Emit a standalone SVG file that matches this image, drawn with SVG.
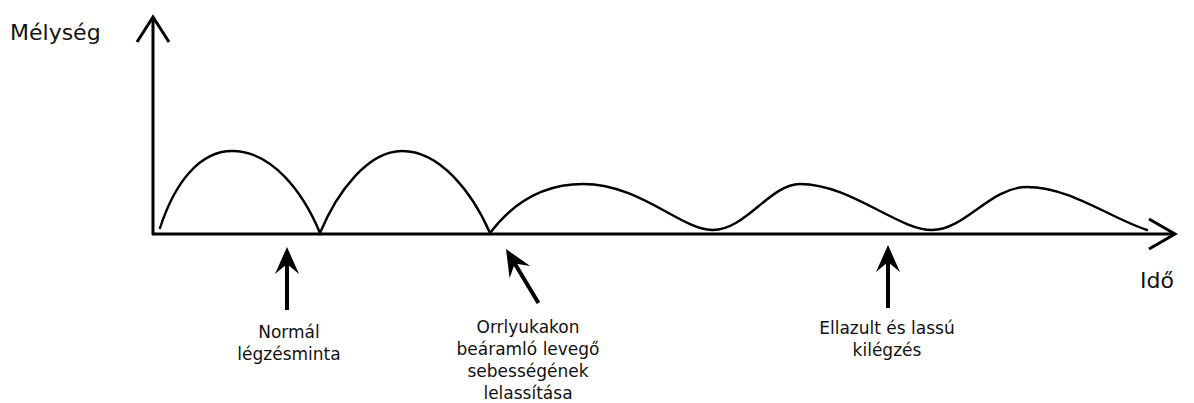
<svg xmlns="http://www.w3.org/2000/svg" xmlns:xlink="http://www.w3.org/1999/xlink" width="1194" height="403" viewBox="0 0 1194 403">
<style>
.axis{fill:none;stroke:#000;stroke-width:3;stroke-linecap:butt;stroke-linejoin:miter}
.curve{fill:none;stroke:#000;stroke-width:2.4;stroke-linecap:round}
.lbl{font-family:"DejaVu Sans",Verdana,sans-serif;font-size:17px;fill:#111;text-anchor:middle}
.ax{font-family:"DejaVu Sans",Verdana,sans-serif;font-size:22px;fill:#111}
</style>
<defs>
<g id="pointer">
<polygon points="0,0 -12,27 0,17 12,27" fill="#000"/>
<line x1="0" y1="12" x2="0" y2="63" stroke="#000" stroke-width="4"/>
</g>
</defs>
<rect width="1194" height="403" fill="#fff"/>
<g id="axes">
<line class="axis" x1="153" y1="18" x2="153" y2="235"/>
<polyline class="axis" points="137,42 153,17 169,42"/>
<line class="axis" x1="152" y1="234" x2="1175" y2="234"/>
<polyline class="axis" points="1149,219 1175,234 1149,249"/>
<text class="ax" x="10" y="40">Mélység</text>
<text class="ax" x="1140" y="288" font-size="23">Idő</text>
</g>
<g id="curve">
<path class="curve" d="M160,228 C175,182 200,151 232,151 C272,151 303,192 320,233 C337,192 368,151 402,151 C440,151 472,192 490,233 C515,200 545,184 583,184 C640,184 680,229 712,230 C745,231 770,184 800,184 C850,184 898,230 932,230 C965,230 990,187 1027,187 C1070,187 1110,218 1147,230"/>
</g>
<g id="connectors">
<use xlink:href="#pointer" href="#pointer" transform="translate(287,247)"/>
<use xlink:href="#pointer" href="#pointer" transform="translate(506,249) rotate(-31)"/>
<use xlink:href="#pointer" href="#pointer" transform="translate(888,245)"/>
</g>
<g id="label-normal">
<text class="lbl" x="289" y="338">Normál</text>
<text class="lbl" x="289" y="360">légzésminta</text>
</g>
<g id="label-orr">
<text class="lbl" x="528" y="333">Orrlyukakon</text>
<text class="lbl" x="528" y="355">beáramló levegő</text>
<text class="lbl" x="528" y="377">sebességének</text>
<text class="lbl" x="528" y="399">lelassítása</text>
</g>
<g id="label-ellazult">
<text class="lbl" x="887" y="334">Ellazult és lassú</text>
<text class="lbl" x="887" y="356">kilégzés</text>
</g>
</svg>
